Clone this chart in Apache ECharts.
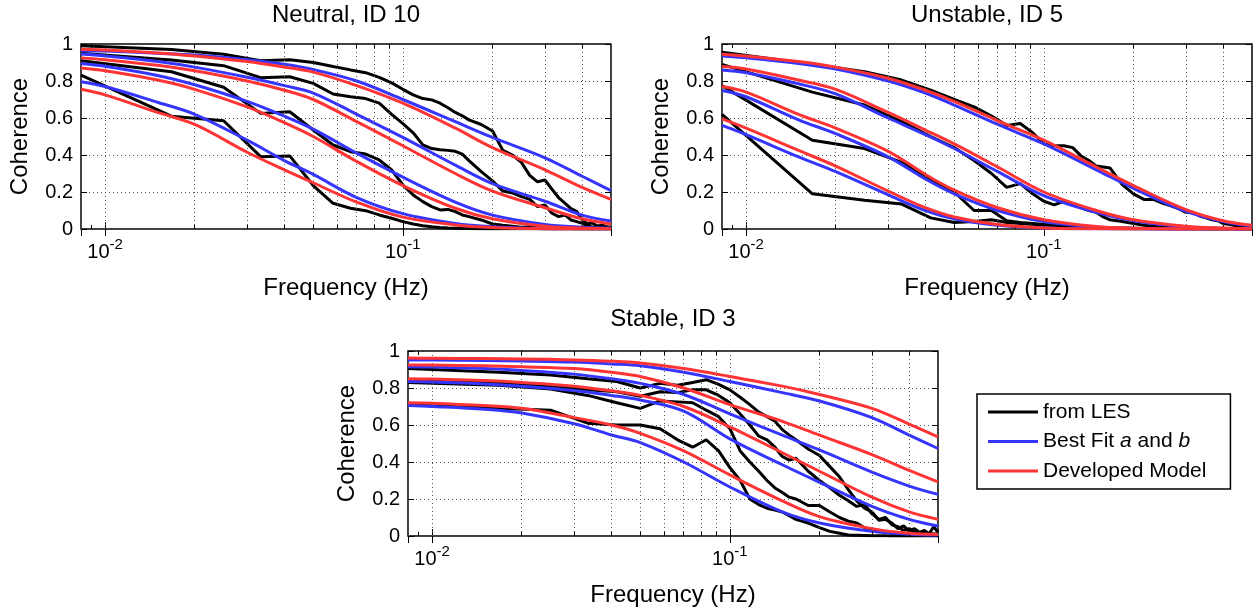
<!DOCTYPE html>
<html><head><meta charset="utf-8">
<script src="https://cdn.jsdelivr.net/npm/echarts@6/dist/echarts.min.js"></script>
<style>html,body{margin:0;padding:0;background:#fff}#c{width:1257px;height:610px}</style>
</head><body><div id="c"></div>
<script>
const FONT = 'Liberation Sans, Arial, Helvetica, sans-serif';

// LES frequencies (Hz)
const lesFreq = [0.0083,0.0167,0.025,0.0333,0.0417,0.05,0.0583,0.0667,0.075,0.0833,
  0.0917,0.1,0.1083,0.1167,0.125,0.1333,0.1417,0.15,0.1583,0.1667,
  0.1833,0.2,0.2167,0.2333,0.25,0.2667,0.2833,0.3,0.3167,0.3333,
  0.35,0.3667,0.3833,0.4,0.4167,0.4333,0.45,0.4667,0.4833,0.5];
// model frequencies (Hz)
const fitFreq = [0.0083,0.01,0.015,0.02,0.03,0.04,0.05,0.07,0.1,0.15,0.2,0.3,0.4,0.5];
// dotted minor grid / minor tick positions
const minorGridFreq = [0.009,0.02,0.03,0.04,0.05,0.06,0.07,0.08,0.09,0.2,0.3,0.4];

const panelTitles = ['Neutral, ID 10','Unstable, ID 5','Stable, ID 3'];
const seriesNames = ['from LES','Best Fit a and b','Developed Model'];

// ---- Neutral, ID 10 ----
const neutralLes1 = [0.99,0.97,0.945,0.91,0.915,0.90,0.878,0.86,0.845,0.82,0.79,0.755,0.725,0.705,0.698,0.68,0.655,0.63,0.612,0.59,0.565,0.53,0.425,0.40,0.36,0.29,0.255,0.265,0.215,0.17,0.14,0.11,0.095,0.05,0.028,0.032,0.015,0.022,0.012,0.008];
const neutralLes2 = [0.95,0.914,0.883,0.818,0.823,0.787,0.73,0.715,0.705,0.68,0.62,0.57,0.52,0.455,0.435,0.428,0.425,0.42,0.405,0.37,0.31,0.26,0.205,0.195,0.175,0.16,0.121,0.13,0.085,0.067,0.076,0.049,0.04,0.031,0.018,0.01,0.015,0.008,0.01,0.005];
const neutralLes3 = [0.91,0.85,0.766,0.625,0.634,0.535,0.454,0.418,0.405,0.373,0.319,0.238,0.184,0.148,0.121,0.103,0.106,0.094,0.076,0.067,0.049,0.027,0.02,0.015,0.01,0.012,0.008,0.005,0.006,0.004,0.003,0.004,0.002,0.003,0.002,0.001,0.002,0.001,0.001,0.001];
const neutralLes4 = [0.832,0.61,0.585,0.391,0.395,0.235,0.139,0.112,0.099,0.076,0.058,0.04,0.027,0.018,0.012,0.008,0.005,0.004,0.003,0.003,0.002,0.002,0.001,0.001,0.001,0.001,0.001,0,0,0,0,0,0,0,0,0,0,0,0,0];
const neutralBlue1 = [0.965,0.962,0.95,0.94,0.915,0.89,0.862,0.80,0.70,0.58,0.495,0.385,0.285,0.207];
const neutralRed1  = [0.972,0.968,0.952,0.935,0.905,0.875,0.848,0.775,0.68,0.545,0.44,0.32,0.225,0.16];
const neutralBlue2 = [0.946,0.935,0.905,0.875,0.82,0.775,0.735,0.62,0.495,0.345,0.245,0.15,0.075,0.043];
const neutralRed2  = [0.925,0.915,0.885,0.855,0.80,0.75,0.70,0.58,0.45,0.30,0.205,0.115,0.055,0.027];
const neutralBlue3 = [0.895,0.88,0.83,0.78,0.69,0.61,0.54,0.41,0.28,0.145,0.075,0.025,0.01,0.005];
const neutralRed3  = [0.87,0.855,0.805,0.755,0.66,0.575,0.50,0.365,0.235,0.112,0.055,0.015,0.005,0.002];
const neutralBlue4 = [0.796,0.77,0.685,0.62,0.48,0.37,0.295,0.17,0.083,0.03,0.012,0.002,0.001,0];
const neutralRed4  = [0.755,0.725,0.63,0.565,0.415,0.32,0.25,0.145,0.064,0.022,0.008,0.001,0,0];

// ---- Unstable, ID 5 ----
const unstableLes1 = [0.955,0.89,0.85,0.805,0.75,0.70,0.66,0.61,0.56,0.57,0.52,0.46,0.45,0.45,0.44,0.395,0.37,0.34,0.335,0.33,0.24,0.19,0.16,0.16,0.14,0.125,0.11,0.09,0.09,0.07,0.06,0.05,0.045,0.03,0.025,0.02,0.015,0.012,0.008,0.005];
const unstableLes2 = [0.89,0.74,0.67,0.58,0.50,0.44,0.37,0.30,0.225,0.245,0.19,0.15,0.13,0.15,0.13,0.115,0.10,0.09,0.065,0.05,0.04,0.03,0.02,0.015,0.01,0.01,0.008,0.006,0.004,0.003,0.003,0.002,0.002,0.001,0.001,0.001,0,0,0,0];
const unstableLes3 = [0.775,0.48,0.435,0.36,0.27,0.20,0.10,0.10,0.045,0.035,0.03,0.025,0.02,0.02,0.018,0.015,0.012,0.01,0.008,0.006,0.005,0.004,0.003,0.002,0.002,0.001,0.001,0,0,0,0,0,0,0,0,0,0,0,0,0];
const unstableLes4 = [0.62,0.19,0.155,0.135,0.06,0.035,0.04,0.05,0.035,0.03,0.025,0.02,0.02,0.018,0.015,0.01,0.008,0.006,0.005,0.004,0.003,0.002,0.002,0.001,0.001,0,0,0,0,0,0,0,0,0,0,0,0,0,0,0];
const unstableBlue1 = [0.935,0.925,0.895,0.865,0.80,0.735,0.67,0.565,0.46,0.32,0.22,0.095,0.04,0.015];
const unstableRed1  = [0.945,0.935,0.905,0.875,0.815,0.75,0.69,0.585,0.48,0.335,0.235,0.105,0.045,0.02];
const unstableBlue2 = [0.86,0.845,0.785,0.73,0.60,0.51,0.435,0.31,0.18,0.09,0.045,0.012,0.004,0.001];
const unstableRed2  = [0.878,0.865,0.805,0.755,0.63,0.535,0.46,0.335,0.20,0.10,0.05,0.015,0.005,0.002];
const unstableBlue3 = [0.749,0.715,0.59,0.515,0.39,0.27,0.19,0.10,0.04,0.01,0.003,0,0,0];
const unstableRed3  = [0.77,0.74,0.62,0.545,0.42,0.295,0.21,0.115,0.05,0.013,0.004,0,0,0];
const unstableBlue4 = [0.56,0.51,0.39,0.31,0.185,0.10,0.055,0.02,0.005,0.001,0,0,0,0];
const unstableRed4  = [0.595,0.545,0.425,0.34,0.205,0.115,0.065,0.024,0.006,0.001,0,0,0,0];

// ---- Stable, ID 3 ----
const stableLes1 = [0.905,0.885,0.87,0.85,0.835,0.80,0.825,0.815,0.83,0.845,0.82,0.79,0.75,0.71,0.67,0.645,0.62,0.575,0.545,0.52,0.47,0.435,0.375,0.32,0.25,0.19,0.15,0.13,0.085,0.09,0.07,0.04,0.055,0.025,0.04,0.02,0.03,0.012,0.05,0.02];
const stableLes2 = [0.84,0.83,0.81,0.79,0.78,0.755,0.78,0.775,0.79,0.79,0.76,0.72,0.66,0.60,0.54,0.52,0.48,0.43,0.41,0.42,0.35,0.30,0.26,0.22,0.19,0.16,0.17,0.12,0.09,0.10,0.06,0.05,0.03,0.04,0.02,0.015,0.02,0.01,0.012,0.008];
const stableLes3 = [0.83,0.815,0.795,0.76,0.72,0.69,0.73,0.725,0.72,0.68,0.645,0.58,0.46,0.40,0.35,0.30,0.26,0.235,0.21,0.20,0.165,0.165,0.13,0.10,0.08,0.07,0.045,0.035,0.03,0.02,0.015,0.012,0.008,0.01,0.005,0.008,0.004,0.005,0.003,0.002];
const stableLes4 = [0.71,0.69,0.68,0.61,0.60,0.60,0.58,0.52,0.48,0.52,0.46,0.37,0.30,0.20,0.17,0.15,0.14,0.13,0.11,0.09,0.07,0.045,0.025,0.015,0.005,0.004,0.003,0.002,0.001,0.001,0,0,0,0,0,0,0,0,0,0];
const stableBlue1 = [0.952,0.951,0.949,0.946,0.94,0.93,0.92,0.885,0.835,0.775,0.73,0.64,0.545,0.473];
const stableRed1  = [0.962,0.961,0.959,0.957,0.952,0.945,0.935,0.905,0.862,0.81,0.765,0.69,0.605,0.536];
const stableBlue2 = [0.915,0.913,0.905,0.895,0.875,0.85,0.825,0.765,0.66,0.545,0.465,0.345,0.27,0.225];
const stableRed2  = [0.925,0.924,0.92,0.915,0.905,0.885,0.862,0.80,0.71,0.62,0.545,0.44,0.355,0.293];
const stableBlue3 = [0.835,0.832,0.822,0.81,0.787,0.76,0.735,0.675,0.525,0.385,0.29,0.16,0.09,0.054];
const stableRed3  = [0.85,0.848,0.84,0.83,0.81,0.785,0.76,0.70,0.59,0.45,0.35,0.21,0.13,0.09];
const stableBlue4 = [0.705,0.70,0.685,0.665,0.607,0.546,0.505,0.40,0.265,0.13,0.07,0.025,0.01,0.005];
const stableRed4  = [0.72,0.718,0.705,0.69,0.64,0.60,0.555,0.46,0.33,0.19,0.105,0.04,0.015,0.008];

const panels = [
  {les:[neutralLes1,neutralLes2,neutralLes3,neutralLes4],
   blue:[neutralBlue1,neutralBlue2,neutralBlue3,neutralBlue4],
   red:[neutralRed1,neutralRed2,neutralRed3,neutralRed4]},
  {les:[unstableLes1,unstableLes2,unstableLes3,unstableLes4],
   blue:[unstableBlue1,unstableBlue2,unstableBlue3,unstableBlue4],
   red:[unstableRed1,unstableRed2,unstableRed3,unstableRed4]},
  {les:[stableLes1,stableLes2,stableLes3,stableLes4],
   blue:[stableBlue1,stableBlue2,stableBlue3,stableBlue4],
   red:[stableRed1,stableRed2,stableRed3,stableRed4]}
];

// layout
const grids = [
  {left:81, top:44, width:530, height:185},
  {left:722, top:44, width:530, height:185},
  {left:408, top:351, width:530, height:185}
];
const titleTops = [1, 1, 305];
const X_MIN = 0.0083, X_MAX = 0.5;
const BLACK = '#000000', BLUE = '#3535ff', RED = '#ff3535';
const GRIDLINE = {color:'#555', width:1, type:[1,3]};
const LW = 3;

function pairs(xs, ys){ return xs.map((x,i)=>[x, ys[i]]); }
function logLabel(v){
  const e = Math.log10(v);
  if (Math.abs(e - Math.round(e)) < 1e-6) return '{b|10}{s|-' + Math.abs(Math.round(e)) + '}';
  return '';
}

const xAxes = [], yAxes = [], series = [], titles = [];
grids.forEach((g, p) => {
  xAxes.push({
    type:'log', logBase:10, gridIndex:p, min:X_MIN, max:X_MAX, position:'bottom',
    name:'Frequency (Hz)', nameLocation:'middle', nameGap:47,
    nameTextStyle:{fontFamily:FONT, fontSize:24, color:'#000'},
    axisLine:{show:false},
    axisTick:{show:true, inside:true, length:7, lineStyle:{color:'#000', width:1}},
    axisLabel:{show:true, margin:11, formatter:logLabel, color:'#000', fontFamily:FONT,
      showMinLabel:false, showMaxLabel:false,
      rich:{b:{fontSize:20, fontFamily:FONT, color:'#000', verticalAlign:'bottom', lineHeight:22},
            s:{fontSize:15, fontFamily:FONT, color:'#000', verticalAlign:'bottom', lineHeight:15, padding:[0,0,10,0]}}},
    splitLine:{show:true, lineStyle:GRIDLINE}
  });
  yAxes.push({
    type:'value', gridIndex:p, min:0, max:1, interval:0.2, position:'left',
    name:'Coherence', nameLocation:'middle', nameGap:49,
    nameTextStyle:{fontFamily:FONT, fontSize:24, color:'#000'},
    axisLine:{show:false},
    axisTick:{show:true, inside:true, length:6, lineStyle:{color:'#000', width:1}},
    axisLabel:{show:true, margin:8, color:'#000', fontFamily:FONT, fontSize:20},
    splitLine:{show:true, lineStyle:GRIDLINE}
  });
  titles.push({text:panelTitles[p], left:g.left + g.width/2, top:titleTops[p], textAlign:'center', padding:0,
    textStyle:{fontFamily:FONT, fontSize:24, fontWeight:'normal', color:'#000', lineHeight:28}});
});
// opposite-side tick axes
grids.forEach((g, p) => {
  xAxes.push({type:'log', logBase:10, gridIndex:p, min:X_MIN, max:X_MAX, position:'top',
    axisLine:{show:false}, axisLabel:{show:false}, splitLine:{show:false},
    axisTick:{show:true, inside:true, length:7, lineStyle:{color:'#000', width:1}}});
  yAxes.push({type:'value', gridIndex:p, min:0, max:1, interval:0.2, position:'right',
    axisLine:{show:false}, axisLabel:{show:false}, splitLine:{show:false},
    axisTick:{show:true, inside:true, length:6, lineStyle:{color:'#000', width:1}}});
});

panels.forEach((pn, p) => {
  // minor dotted grid lines
  series.push({type:'line', xAxisIndex:p, yAxisIndex:p, data:[], z:1, silent:true,
    markLine:{silent:true, symbol:'none', label:{show:false}, animation:false,
      lineStyle:GRIDLINE, emphasis:{disabled:true},
      data:minorGridFreq.map(f => ({xAxis:f}))}});
  // minor tick marks (bottom and top edges)
  const tickPairs = [];
  minorGridFreq.forEach(f => {
    tickPairs.push([{coord:[f,0]},{coord:[f,0.022]}]);
    tickPairs.push([{coord:[f,1]},{coord:[f,0.978]}]);
  });
  series.push({type:'line', xAxisIndex:p, yAxisIndex:p, data:[], z:6, silent:true,
    markLine:{silent:true, symbol:'none', label:{show:false}, animation:false,
      lineStyle:{color:'#000', width:1, type:'solid'}, emphasis:{disabled:true},
      data:tickPairs}});
  pn.les.forEach(arr => series.push({type:'line', name:seriesNames[0], xAxisIndex:p, yAxisIndex:p,
    data:pairs(lesFreq, arr), symbol:'none', z:3, color:BLACK,
    lineStyle:{color:BLACK, width:LW}}));
  pn.blue.forEach(arr => series.push({type:'line', name:seriesNames[1], xAxisIndex:p, yAxisIndex:p,
    data:pairs(fitFreq, arr), symbol:'none', smooth:0.35, z:4, color:BLUE,
    lineStyle:{color:BLUE, width:LW}}));
  pn.red.forEach(arr => series.push({type:'line', name:seriesNames[2], xAxisIndex:p, yAxisIndex:p,
    data:pairs(fitFreq, arr), symbol:'none', smooth:0.35, z:5, color:RED,
    lineStyle:{color:RED, width:LW}}));
});

const chart = echarts.init(document.getElementById('c'), null, {renderer:'canvas'});
chart.setOption({
  animation:false,
  backgroundColor:'#fff',
  title:titles,
  grid:grids.map(g => Object.assign({show:true, borderColor:'#000', borderWidth:1.5, containLabel:false, outerBoundsMode:'none'}, g)),
  xAxis:xAxes,
  yAxis:yAxes,
  legend:{
    data:seriesNames, orient:'vertical', left:977, top:394,
    padding:[7,24,7,11], itemGap:7.5, itemWidth:50, itemHeight:3, icon:'rect',
    borderColor:'#000', borderWidth:1.5, backgroundColor:'#fff', selectedMode:false,
    formatter: n => n === 'Best Fit a and b' ? 'Best Fit {i|a} and {i|b}' : n,
    textStyle:{fontFamily:FONT, fontSize:21, color:'#000', lineHeight:22,
      rich:{i:{fontStyle:'italic', fontFamily:FONT, fontSize:21, color:'#000'}}}
  },
  series:series
});
</script></body></html>
